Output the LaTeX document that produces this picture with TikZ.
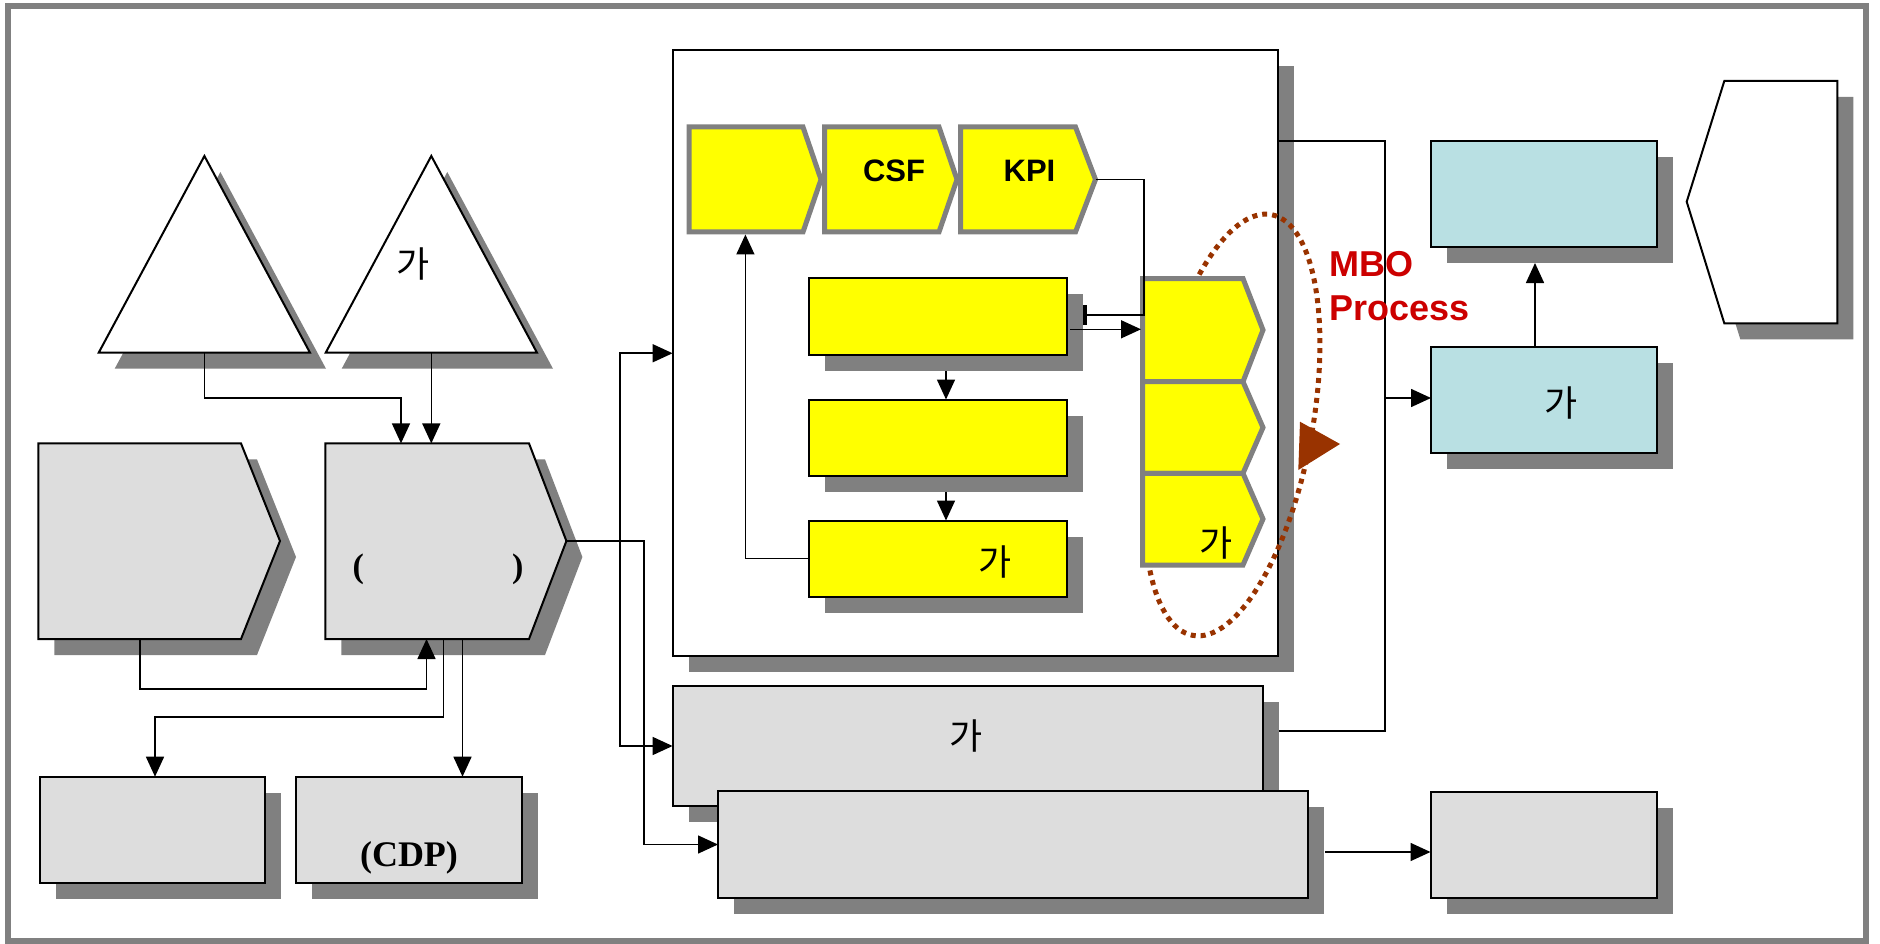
\documentclass[tikz,border=0pt]{standalone}
\usepackage{fontspec}
\setmainfont{Liberation Sans}
\newfontfamily\krfont{Noto Sans CJK KR}
\newfontfamily\serfont{Liberation Serif}
\usetikzlibrary{shadows,arrows.meta,calc}
\definecolor{shgray}{RGB}{128,128,128}
\definecolor{boxgray}{RGB}{221,221,221}
\definecolor{tealc}{RGB}{185,224,227}
\definecolor{mbored}{RGB}{204,0,0}
\definecolor{brn}{RGB}{153,51,0}
\definecolor{ylw}{RGB}{255,255,0}
\begin{document}
\begin{tikzpicture}[x=1pt,y=-1pt,
 ln/.style={line width=1.6pt},
 arr/.style={ln,-{Triangle[length=20pt,width=18pt]}},
 shad/.style={drop shadow={shadow xshift=16pt,shadow yshift=-16pt,opacity=1,fill=shgray}},
 box/.style={rectangle,draw=black,line width=2pt,inner sep=0pt,outer sep=0pt,anchor=north west,shad},
 gbox/.style={box,fill=boxgray},
 ybox/.style={box,fill=ylw},
 tbox/.style={box,fill=tealc},
 poly/.style={draw=black,line width=2pt,shad},
 ychev/.style={draw=shgray,line width=5pt,fill=ylw},
 krtext/.style={font=\krfont\fontsize{36}{40}\selectfont,inner sep=0pt},
 lattext/.style={font=\bfseries\fontsize{31}{36}\selectfont,inner sep=0pt},
]
\useasboundingbox (0,0) rectangle (1880,944);
\draw[shgray,line width=6pt] (8,6) rectangle (1866,941);

% triangles
\path[poly,fill=white] (204.4,156) -- (310,352.7) -- (98.7,352.7) -- cycle;
\coordinate (t1b) at (204.4,352.7);
\path[poly,fill=white] (431.3,156) -- (537,352.7) -- (325.7,352.7) -- cycle;
\coordinate (t2b) at (431.3,352.7);
\node[krtext] (t2txt) at (413,264) {가};

% pentagons
\path[poly,fill=boxgray] (38.3,443.4) -- (241,443.4) -- (280,541) -- (241,639) -- (38.3,639) -- cycle;
\path[poly,fill=boxgray] (325.3,443.4) -- (529,443.4) -- (566.4,541) -- (529,639) -- (325.3,639) -- cycle;
\coordinate (p1b) at (140,639);
\coordinate (p2tip) at (566.4,541);
\coordinate (p2in1) at (401,443.4);
\coordinate (p2in2) at (431.3,443.4);
\coordinate (p2inb) at (426.5,639);
\coordinate (p2o1) at (443.5,639);
\coordinate (p2o2) at (462.5,639);
\node[font=\serfont\bfseries\fontsize{34}{40}\selectfont,inner sep=0pt,anchor=base] (paren) at (438,577) {(\hspace{148pt})};

% bottom-left boxes
\node[gbox,minimum width=225.4pt,minimum height=106pt] (boxA) at (39.6,776.7) {};
\node[gbox,minimum width=225.6pt,minimum height=106pt] (boxB) at (296,776.7) {};
\node[font=\serfont\bfseries\fontsize{36}{40}\selectfont,inner sep=0pt,anchor=base] (cdp) at (409,866.7) {(CDP)};

% big box
\node[box,fill=white,minimum width=605.4pt,minimum height=605.5pt] (big) at (672.6,50.5) {};

% MBO cycle
\draw[brn,line width=5pt,dash pattern=on 5pt off 5pt,rotate around={-10.6:(1232,425)}] (1232,425) ellipse [x radius=80, y radius=214];
\fill[brn] (1300,421.7) -- (1340,444) -- (1298.3,470) -- cycle;

% top chevrons
\path[ychev] (689,127) -- (803,127) -- (821,179.5) -- (803,232) -- (689,232) -- cycle;
\path[ychev] (824.5,127) -- (939,127) -- (957,179.5) -- (939,232) -- (824.5,232) -- cycle;
\path[ychev] (960.5,127) -- (1075.5,127) -- (1095.5,179.5) -- (1075.5,232) -- (960.5,232) -- cycle;
\node[lattext] (csf) at (894,171) {CSF};
\node[lattext] (kpi) at (1029.5,171) {KPI};
\coordinate (c1b) at (745.4,234.5);
\coordinate (c3tip) at (1095.5,179.5);

% yellow rectangles
\node[ybox,minimum width=257.2pt,minimum height=76.7pt] (r1) at (809.4,278) {};
\node[ybox,minimum width=257.2pt,minimum height=76.2pt] (r2) at (809.4,399.5) {};
\node[ybox,minimum width=257.2pt,minimum height=76pt] (r3) at (809.4,520.5) {};
\node[krtext] (r3txt) at (994.6,562) {가};

% right column chevrons
\path[ychev] (1142.5,278.5) -- (1243,278.5) -- (1263,330) -- (1243,381.7) -- (1142.5,381.7) -- cycle;
\path[ychev] (1142.5,381.7) -- (1243,381.7) -- (1263,427.5) -- (1243,473.3) -- (1142.5,473.3) -- cycle;
\path[ychev] (1142.5,473.3) -- (1243,473.3) -- (1263,519) -- (1243,565) -- (1142.5,565) -- cycle;
\coordinate (colA) at (1141,329.3);
\node[krtext] (colCtxt) at (1215.7,542.7) {가};

% lower boxes
\node[gbox,minimum width=589.9pt,minimum height=120pt] (mid) at (672.6,686) {};
\node[krtext] (midtxt) at (966,736) {가};
\node[gbox,minimum width=590pt,minimum height=107pt] (low) at (718,791) {};
\node[gbox,minimum width=226.5pt,minimum height=106.5pt] (br) at (1430.5,791.5) {};

% right side
\node[tbox,minimum width=226pt,minimum height=106pt] (teal1) at (1431,141) {};
\node[tbox,minimum width=226pt,minimum height=106pt] (teal2) at (1431,347) {};
\node[krtext] (teal2txt) at (1561,403) {가};
\path[poly,fill=white] (1724.3,81) -- (1837.3,81) -- (1837.3,323.3) -- (1724.3,323.3) -- (1686.7,201.7) -- cycle;

% connectors
\draw[arr] (t1b) -- (204.4,398) -| (p2in1);
\draw[arr] (t2b) -- (p2in2);
\draw[arr] (p1b) -- (140,689) -| (p2inb);
\draw[arr] (p2o1) -- (443.5,716.7) -| ($(boxA.north west)+(115.4,0)$);
\draw[arr] (p2o2) -- (p2o2 |- boxB.north);
\draw[arr] (p2tip) -- (644,541) |- (low.west);
\draw[arr] (620,541) |- (big.west);
\draw[arr] (620,541) |- (mid.west);
\draw[arr] (r3.west) -| (c1b);
\draw[ln,-{Bar[width=20pt,line width=4pt]}] (c3tip) -| (1144,315) -- (1083,315);
\draw[arr] (1070,329.3) -- (colA);
\draw[arr] (946,371) -- (946,399.5);
\draw[arr] (946,492) -- (946,520.5);
\draw[ln] (big.east |- 0,141) -- (1385,141) -- (1385,730.7) -- (1279,730.7);
\draw[arr] (1385,398) -- (teal2.west |- 0,398);
\draw[arr] (1535,347) -- (1535,263);
\draw[arr] (1325,852) -- (br.west |- 0,852);

\node[anchor=north west,align=left,inner sep=0pt,text=mbored,font=\bfseries\fontsize{36}{44}\selectfont] (mbo) at (1329,251.5) {MBO\\Process};
\end{tikzpicture}
\end{document}
